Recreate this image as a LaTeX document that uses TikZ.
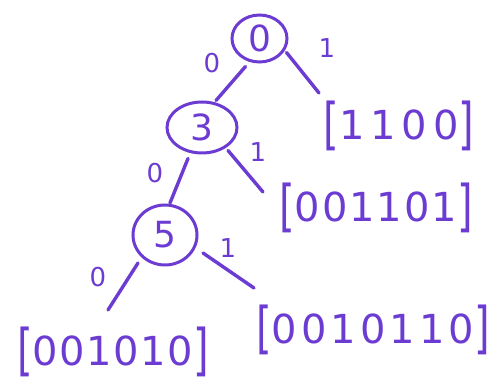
\documentclass[tikz,border=0pt]{standalone}
\usepackage{fontspec}
\setmainfont{DejaVu Sans}
\usetikzlibrary{shapes.geometric,calc}
\definecolor{ink}{RGB}{108,60,210}
% brackets drawn taller than the digits they enclose
\newcommand\tallbr[1]{\raisebox{-4pt}{\scalebox{1}[1.4]{#1}}}
\begin{document}
\begin{tikzpicture}[x=1pt,y=-1pt,
  every node/.style={text=ink},
  vertex/.style={draw=ink, line width=3pt, ellipse, inner sep=0pt,
    font=\fontsize{36}{36}\selectfont},
  leaf/.style={anchor=base, inner sep=0pt},
  edge/.style={draw=ink, line width=3.4pt, line cap=round},
  bit/.style={inner sep=0pt, font=\fontsize{26}{26}\selectfont}]
\useasboundingbox (0,0) rectangle (499,382);

% internal nodes
\node[vertex, minimum width=55pt, minimum height=47pt] (root) at (259.5,38.5) {0};
\node[vertex, minimum width=70pt, minimum height=51pt] (n3) at (202,127.5) {3};
\node[vertex, minimum width=64pt, minimum height=60pt] (n5) at (165,235) {5};

% leaves
\node[leaf, font=\fontsize{40}{40}\selectfont\addfontfeature{LetterSpace=15}] (l1) at (399,140) {\tallbr{[}1100\tallbr{]}};
\node[leaf, font=\fontsize{40}{40}\selectfont\addfontfeature{LetterSpace=5}] (l2) at (376,222) {\tallbr{[}001101\tallbr{]}};
\node[leaf, font=\fontsize{40}{40}\selectfont\addfontfeature{LetterSpace=4}] (l3) at (113,366) {\tallbr{[}001010\tallbr{]}};
\node[leaf, font=\fontsize{40}{40}\selectfont\addfontfeature{LetterSpace=10}] (l4) at (373,344) {\tallbr{[}0010110\tallbr{]}};

% branches
\draw[edge] ($(root.center)+(-14,28)$) -- ($(n3.center)+(14,-27)$);
\draw[edge] ($(root.center)+(27,14)$) -- ($(l1.base)+(-80,-47)$);
\draw[edge] ($(n3.center)+(-14,31)$) -- ($(n5.center)+(5,-32)$);
\draw[edge] ($(n3.center)+(26,23)$) -- ($(l2.base)+(-113,-30)$);
\draw[edge] ($(n5.center)+(-27,28)$) -- ($(l3.base)+(-5,-56)$);
\draw[edge] ($(n5.center)+(38,18)$) -- ($(l4.base)+(-119,-56)$);

% branch labels
\node[bit] (b1) at (212,63) {0};
\node[bit] (b2) at (327,48) {1};
\node[bit] (b3) at (155,173) {0};
\node[bit] (b4) at (258,152) {1};
\node[bit] (b5) at (98,277) {0};
\node[bit] (b6) at (228,248) {1};
\end{tikzpicture}
\end{document}
